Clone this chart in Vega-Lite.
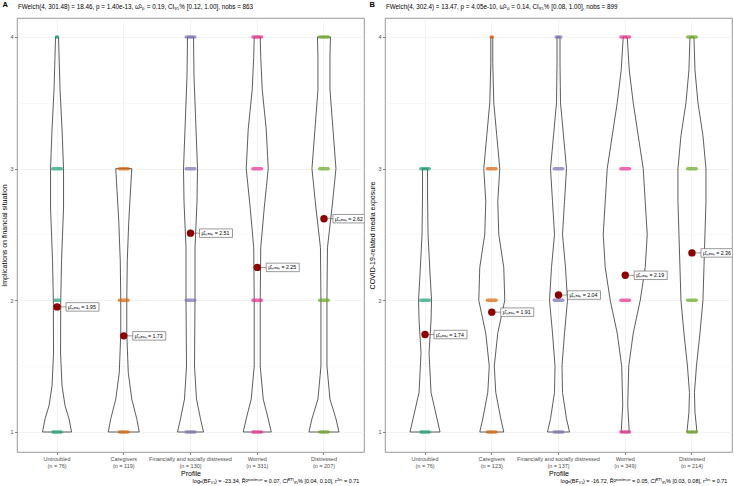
{
  "$schema": "https://vega.github.io/schema/vega-lite/v6.json",
  "padding": 0,
  "background": "white",
  "spacing": 3,
  "config": {
    "font": "Liberation Sans",
    "view": {"stroke": "#7f7f7f", "strokeWidth": 0.8},
    "axis": {"domain": false, "gridColor": "#ebebeb", "gridWidth": 0.6, "tickColor": "#333333", "tickWidth": 0.6, "tickSize": 2.5, "labelColor": "#4d4d4d", "labelFontSize": 5.5, "titleFontSize": 7, "titleFontWeight": "normal", "titleColor": "#000000"}
  },
  "datasets": {
    "violinA": [
      {"g":"Untroubled","y":1,"w":0},{"g":"Untroubled","y":1,"w":14.5},{"g":"Untroubled","y":1.1,"w":12},{"g":"Untroubled","y":1.2,"w":8},{"g":"Untroubled","y":1.35,"w":5},{"g":"Untroubled","y":1.6,"w":3.5},{"g":"Untroubled","y":2,"w":3.7},{"g":"Untroubled","y":2.3,"w":4.5},{"g":"Untroubled","y":2.7,"w":6.5},{"g":"Untroubled","y":3,"w":6.5},{"g":"Untroubled","y":3.3,"w":5},{"g":"Untroubled","y":3.6,"w":3},{"g":"Untroubled","y":4,"w":1.5},{"g":"Untroubled","y":4,"w":0},
      {"g":"Caregivers","y":1,"w":0},{"g":"Caregivers","y":1,"w":15.5},{"g":"Caregivers","y":1.1,"w":13},{"g":"Caregivers","y":1.25,"w":8},{"g":"Caregivers","y":1.45,"w":4.5},{"g":"Caregivers","y":1.75,"w":3},{"g":"Caregivers","y":2,"w":3},{"g":"Caregivers","y":2.3,"w":3.5},{"g":"Caregivers","y":2.6,"w":5},{"g":"Caregivers","y":2.8,"w":6.5},{"g":"Caregivers","y":3,"w":8},{"g":"Caregivers","y":3,"w":0},
      {"g":"Financially and socially distressed","y":1,"w":0},{"g":"Financially and socially distressed","y":1,"w":13},{"g":"Financially and socially distressed","y":1.1,"w":10},{"g":"Financially and socially distressed","y":1.25,"w":6},{"g":"Financially and socially distressed","y":1.5,"w":4},{"g":"Financially and socially distressed","y":2,"w":4.5},{"g":"Financially and socially distressed","y":2.4,"w":4.5},{"g":"Financially and socially distressed","y":2.75,"w":6.5},{"g":"Financially and socially distressed","y":3,"w":7},{"g":"Financially and socially distressed","y":3.3,"w":5.5},{"g":"Financially and socially distressed","y":3.7,"w":3.5},{"g":"Financially and socially distressed","y":4,"w":3},{"g":"Financially and socially distressed","y":4,"w":0},
      {"g":"Worried","y":1,"w":0},{"g":"Worried","y":1,"w":14},{"g":"Worried","y":1.1,"w":11},{"g":"Worried","y":1.25,"w":6},{"g":"Worried","y":1.5,"w":3},{"g":"Worried","y":2,"w":3},{"g":"Worried","y":2.4,"w":3.5},{"g":"Worried","y":2.7,"w":7},{"g":"Worried","y":3,"w":11},{"g":"Worried","y":3.3,"w":9},{"g":"Worried","y":3.6,"w":5},{"g":"Worried","y":3.85,"w":3.5},{"g":"Worried","y":4,"w":3},{"g":"Worried","y":4,"w":0},
      {"g":"Distressed","y":1,"w":0},{"g":"Distressed","y":1,"w":15},{"g":"Distressed","y":1.1,"w":12},{"g":"Distressed","y":1.25,"w":6},{"g":"Distressed","y":1.5,"w":3},{"g":"Distressed","y":2,"w":3},{"g":"Distressed","y":2.4,"w":3.5},{"g":"Distressed","y":2.7,"w":8},{"g":"Distressed","y":3,"w":12},{"g":"Distressed","y":3.3,"w":9},{"g":"Distressed","y":3.6,"w":6},{"g":"Distressed","y":3.85,"w":6},{"g":"Distressed","y":4,"w":6.5},{"g":"Distressed","y":4,"w":0}
    ],
    "violinB": [
      {"g":"Untroubled","y":1,"w":0},{"g":"Untroubled","y":1,"w":15},{"g":"Untroubled","y":1.1,"w":12},{"g":"Untroubled","y":1.3,"w":6},{"g":"Untroubled","y":1.6,"w":4},{"g":"Untroubled","y":1.85,"w":6},{"g":"Untroubled","y":2,"w":6.5},{"g":"Untroubled","y":2.2,"w":5},{"g":"Untroubled","y":2.5,"w":3},{"g":"Untroubled","y":2.8,"w":2.5},{"g":"Untroubled","y":3,"w":2.5},{"g":"Untroubled","y":3,"w":0},
      {"g":"Caregivers","y":1,"w":0},{"g":"Caregivers","y":1,"w":12},{"g":"Caregivers","y":1.1,"w":9},{"g":"Caregivers","y":1.3,"w":4},{"g":"Caregivers","y":1.5,"w":2.5},{"g":"Caregivers","y":1.75,"w":6},{"g":"Caregivers","y":2,"w":13},{"g":"Caregivers","y":2.25,"w":12},{"g":"Caregivers","y":2.5,"w":7},{"g":"Caregivers","y":2.75,"w":6},{"g":"Caregivers","y":3,"w":8},{"g":"Caregivers","y":3.25,"w":5},{"g":"Caregivers","y":3.5,"w":2},{"g":"Caregivers","y":3.8,"w":1},{"g":"Caregivers","y":4,"w":1},{"g":"Caregivers","y":4,"w":0},
      {"g":"Financially and socially distressed","y":1,"w":0},{"g":"Financially and socially distressed","y":1,"w":11},{"g":"Financially and socially distressed","y":1.1,"w":8},{"g":"Financially and socially distressed","y":1.3,"w":4},{"g":"Financially and socially distressed","y":1.5,"w":3.5},{"g":"Financially and socially distressed","y":1.75,"w":6},{"g":"Financially and socially distressed","y":2,"w":9},{"g":"Financially and socially distressed","y":2.25,"w":7},{"g":"Financially and socially distressed","y":2.5,"w":4},{"g":"Financially and socially distressed","y":2.75,"w":6},{"g":"Financially and socially distressed","y":3,"w":8},{"g":"Financially and socially distressed","y":3.25,"w":5},{"g":"Financially and socially distressed","y":3.5,"w":2},{"g":"Financially and socially distressed","y":3.8,"w":1.5},{"g":"Financially and socially distressed","y":4,"w":1.5},{"g":"Financially and socially distressed","y":4,"w":0},
      {"g":"Worried","y":1,"w":0},{"g":"Worried","y":1,"w":4},{"g":"Worried","y":1.2,"w":2.5},{"g":"Worried","y":1.5,"w":3.5},{"g":"Worried","y":1.75,"w":8},{"g":"Worried","y":2,"w":15},{"g":"Worried","y":2.25,"w":20},{"g":"Worried","y":2.5,"w":22},{"g":"Worried","y":2.75,"w":20},{"g":"Worried","y":3,"w":18},{"g":"Worried","y":3.25,"w":13},{"g":"Worried","y":3.5,"w":8},{"g":"Worried","y":3.75,"w":4},{"g":"Worried","y":4,"w":2},{"g":"Worried","y":4,"w":0},
      {"g":"Distressed","y":1,"w":0},{"g":"Distressed","y":1,"w":5},{"g":"Distressed","y":1.15,"w":3},{"g":"Distressed","y":1.3,"w":2.5},{"g":"Distressed","y":1.5,"w":4.5},{"g":"Distressed","y":1.75,"w":8},{"g":"Distressed","y":2,"w":11},{"g":"Distressed","y":2.25,"w":12},{"g":"Distressed","y":2.5,"w":13},{"g":"Distressed","y":2.75,"w":14},{"g":"Distressed","y":3,"w":14},{"g":"Distressed","y":3.25,"w":11},{"g":"Distressed","y":3.5,"w":6},{"g":"Distressed","y":3.75,"w":3},{"g":"Distressed","y":4,"w":2},{"g":"Distressed","y":4,"w":0}
    ],
    "dotsA": [
      {"g":"Untroubled","y":1,"n":38},{"g":"Untroubled","y":2,"n":8},{"g":"Untroubled","y":3,"n":26},{"g":"Untroubled","y":4,"n":2},
      {"g":"Caregivers","y":1,"n":67},{"g":"Caregivers","y":2,"n":17},{"g":"Caregivers","y":3,"n":35},
      {"g":"Financially and socially distressed","y":1,"n":36},{"g":"Financially and socially distressed","y":2,"n":25},{"g":"Financially and socially distressed","y":3,"n":35},{"g":"Financially and socially distressed","y":4,"n":34},
      {"g":"Worried","y":1,"n":130},{"g":"Worried","y":2,"n":40},{"g":"Worried","y":3,"n":110},{"g":"Worried","y":4,"n":51},
      {"g":"Distressed","y":1,"n":60},{"g":"Distressed","y":2,"n":15},{"g":"Distressed","y":3,"n":75},{"g":"Distressed","y":4,"n":57}
    ],
    "dotsB": [
      {"g":"Untroubled","y":1,"n":35},{"g":"Untroubled","y":2,"n":26},{"g":"Untroubled","y":3,"n":15},
      {"g":"Caregivers","y":1,"n":43},{"g":"Caregivers","y":2,"n":50},{"g":"Caregivers","y":3,"n":28},{"g":"Caregivers","y":4,"n":2},
      {"g":"Financially and socially distressed","y":1,"n":45},{"g":"Financially and socially distressed","y":2,"n":50},{"g":"Financially and socially distressed","y":3,"n":34},{"g":"Financially and socially distressed","y":4,"n":8},
      {"g":"Worried","y":1,"n":72},{"g":"Worried","y":2,"n":160},{"g":"Worried","y":3,"n":97},{"g":"Worried","y":4,"n":20},
      {"g":"Distressed","y":1,"n":33},{"g":"Distressed","y":2,"n":91},{"g":"Distressed","y":3,"n":68},{"g":"Distressed","y":4,"n":22}
    ],
    "meanA": [
      {"g":"Untroubled","y":1.95,"t":"μ̂ₘₑₐₙ = 1.95"},
      {"g":"Caregivers","y":1.73,"t":"μ̂ₘₑₐₙ = 1.73"},
      {"g":"Financially and socially distressed","y":2.51,"t":"μ̂ₘₑₐₙ = 2.51"},
      {"g":"Worried","y":2.25,"t":"μ̂ₘₑₐₙ = 2.25"},
      {"g":"Distressed","y":2.62,"t":"μ̂ₘₑₐₙ = 2.62"}
    ],
    "meanB": [
      {"g":"Untroubled","y":1.74,"t":"μ̂ₘₑₐₙ = 1.74"},
      {"g":"Caregivers","y":1.91,"t":"μ̂ₘₑₐₙ = 1.91"},
      {"g":"Financially and socially distressed","y":2.04,"t":"μ̂ₘₑₐₙ = 2.04"},
      {"g":"Worried","y":2.19,"t":"μ̂ₘₑₐₙ = 2.19"},
      {"g":"Distressed","y":2.36,"t":"μ̂ₘₑₐₙ = 2.36"}
    ]
  },
  "hconcat": [
    {
      "title": {"text": "logₑ(BF₀₁) = -23.34, R̂²ᵖᵒˢᵗᵉʳⁱᵒʳ = 0.07, CIᴱᵀᴵ₉₅% [0.04, 0.10], rᴶᶻˢ = 0.71", "orient": "bottom", "anchor": "end", "fontSize": 5.5, "fontWeight": "normal", "offset": 2, "dx": -5, "color": "#000000"},
      "vconcat": [
        {
          "title": {"text": "A", "anchor": "start", "frame": "bounds", "fontSize": 7.5, "fontWeight": "bold", "color": "#000000", "offset": -5, "dx": 2},
          "vconcat": [
            {
              "width": 347,
              "height": 434,
              "title": {"text": "FWelch(4, 301.48) = 18.46, p = 1.40e-13, ω̂²ₚ = 0.19, CI₉₅% [0.12, 1.00], nobs = 863", "anchor": "start", "frame": "bounds", "fontSize": 6.3, "fontWeight": "normal", "color": "#000000", "offset": 8, "dx": 17},
              "encoding": {
                "x": {"field": "g", "type": "nominal", "sort": ["Untroubled","Caregivers","Financially and socially distressed","Worried","Distressed"], "scale": {"paddingInner": 0, "paddingOuter": 0.1},
                  "axis": {"title": "Profile", "labelAngle": 0, "labelOverlap": false, "labelLimit": 0, "labelBound": false, "labelPadding": 2, "titlePadding": 1, "labelLineHeight": 6.5, "grid": true,
                    "labelExpr": "datum.value == 'Untroubled' ? ['Untroubled','(n = 76)'] : datum.value == 'Caregivers' ? ['Caregivers','(n = 119)'] : datum.value == 'Worried' ? ['Worried','(n = 331)'] : datum.value == 'Distressed' ? ['Distressed','(n = 207)'] : ['Financially and socially distressed','(n = 130)']"}},
                "y": {"field": "y", "type": "quantitative", "scale": {"domain": [0.848, 4.144], "nice": false, "zero": false},
                  "axis": {"title": "Implications on financial situation", "values": [1,1.5,2,2.5,3,3.5,4], "labelExpr": "datum.value % 1 == 0 ? format(datum.value, 'd') : ''", "labelPadding": 1.5, "titlePadding": 2, "gridColor": {"condition": {"test": "datum.value % 1 != 0", "value": "#f4f4f4"}, "value": "#ebebeb"}, "tickOpacity": {"condition": {"test": "datum.value % 1 != 0", "value": 0}, "value": 1}}}
              },
              "resolve": {"scale": {"xOffset": "independent"}},
              "layer": [
                {"data": {"name": "violinA"}, "mark": {"type": "line", "color": "#333333", "strokeWidth": 0.8}, "encoding": {"xOffset": {"field": "w", "type": "quantitative", "scale": {"domain": [-33.365, 33.365]}}, "detail": {"field": "g"}, "order": {"value": null}}},
                {"data": {"name": "violinA"}, "mark": {"type": "line", "color": "#333333", "strokeWidth": 0.8}, "encoding": {"xOffset": {"field": "w", "type": "quantitative", "scale": {"domain": [-33.365, 33.365], "reverse": true}}, "detail": {"field": "g"}, "order": {"value": null}}},
                {"data": {"name": "dotsA"}, "mark": {"type": "tick", "thickness": 3.5, "opacity": 0.7, "cornerRadius": 2}, "encoding": {"color": {"field": "g", "type": "nominal", "scale": {"domain": ["Untroubled","Caregivers","Financially and socially distressed","Worried","Distressed"], "range": ["#1b9e77","#d95f02","#7570b3","#e7298a","#66a61e"]}, "legend": null}, "size": {"field": "n", "type": "quantitative", "scale": {"domain": [1, 15], "range": [4, 12], "clamp": true}, "legend": null}}},
                {"data": {"name": "meanA"}, "mark": {"type": "point", "shape": "M0,0H0.18M0.18,-0.085H0.84V0.085H0.18Z", "size": 10000, "filled": true, "fill": "white", "stroke": "#555555", "strokeWidth": 0.6, "opacity": 1, "clip": true}},
                {"data": {"name": "meanA"}, "mark": {"type": "circle", "size": 55, "color": "#8b0000", "opacity": 1}},
                {"data": {"name": "meanA"}, "mark": {"type": "text", "align": "left", "baseline": "middle", "dx": 11, "fontSize": 5.2, "color": "#000000", "clip": true}, "encoding": {"text": {"field": "t"}}}
              ]
            }
          ]
        }
      ]
    },
    {
      "title": {"text": "logₑ(BF₀₁) = -16.72, R̂²ᵖᵒˢᵗᵉʳⁱᵒʳ = 0.05, CIᴱᵀᴵ₉₅% [0.03, 0.08], rᴶᶻˢ = 0.71", "orient": "bottom", "anchor": "end", "fontSize": 5.5, "fontWeight": "normal", "offset": 2, "dx": -5, "color": "#000000"},
      "vconcat": [
        {
          "title": {"text": "B", "anchor": "start", "frame": "bounds", "fontSize": 7.5, "fontWeight": "bold", "color": "#000000", "offset": -5, "dx": 1},
          "vconcat": [
            {
              "width": 347,
              "height": 434,
              "title": {"text": "FWelch(4, 302.4) = 13.47, p = 4.05e-10, ω̂²ₚ = 0.14, CI₉₅% [0.08, 1.00], nobs = 899", "anchor": "start", "frame": "bounds", "fontSize": 6.3, "fontWeight": "normal", "color": "#000000", "offset": 8, "dx": 17},
              "encoding": {
                "x": {"field": "g", "type": "nominal", "sort": ["Untroubled","Caregivers","Financially and socially distressed","Worried","Distressed"], "scale": {"paddingInner": 0, "paddingOuter": 0.1},
                  "axis": {"title": "Profile", "labelAngle": 0, "labelOverlap": false, "labelLimit": 0, "labelBound": false, "labelPadding": 2, "titlePadding": 1, "labelLineHeight": 6.5, "grid": true,
                    "labelExpr": "datum.value == 'Untroubled' ? ['Untroubled','(n = 76)'] : datum.value == 'Caregivers' ? ['Caregivers','(n = 123)'] : datum.value == 'Worried' ? ['Worried','(n = 349)'] : datum.value == 'Distressed' ? ['Distressed','(n = 214)'] : ['Financially and socially distressed','(n = 137)']"}},
                "y": {"field": "y", "type": "quantitative", "scale": {"domain": [0.848, 4.144], "nice": false, "zero": false},
                  "axis": {"title": "COVID-19-related media exposure", "values": [1,1.5,2,2.5,3,3.5,4], "labelExpr": "datum.value % 1 == 0 ? format(datum.value, 'd') : ''", "labelPadding": 1.5, "titlePadding": 2, "gridColor": {"condition": {"test": "datum.value % 1 != 0", "value": "#f4f4f4"}, "value": "#ebebeb"}, "tickOpacity": {"condition": {"test": "datum.value % 1 != 0", "value": 0}, "value": 1}}}
              },
              "resolve": {"scale": {"xOffset": "independent"}},
              "layer": [
                {"data": {"name": "violinB"}, "mark": {"type": "line", "color": "#333333", "strokeWidth": 0.8}, "encoding": {"xOffset": {"field": "w", "type": "quantitative", "scale": {"domain": [-33.365, 33.365]}}, "detail": {"field": "g"}, "order": {"value": null}}},
                {"data": {"name": "violinB"}, "mark": {"type": "line", "color": "#333333", "strokeWidth": 0.8}, "encoding": {"xOffset": {"field": "w", "type": "quantitative", "scale": {"domain": [-33.365, 33.365], "reverse": true}}, "detail": {"field": "g"}, "order": {"value": null}}},
                {"data": {"name": "dotsB"}, "mark": {"type": "tick", "thickness": 3.5, "opacity": 0.7, "cornerRadius": 2}, "encoding": {"color": {"field": "g", "type": "nominal", "scale": {"domain": ["Untroubled","Caregivers","Financially and socially distressed","Worried","Distressed"], "range": ["#1b9e77","#d95f02","#7570b3","#e7298a","#66a61e"]}, "legend": null}, "size": {"field": "n", "type": "quantitative", "scale": {"domain": [1, 15], "range": [4, 12], "clamp": true}, "legend": null}}},
                {"data": {"name": "meanB"}, "mark": {"type": "point", "shape": "M0,0H0.18M0.18,-0.085H0.84V0.085H0.18Z", "size": 10000, "filled": true, "fill": "white", "stroke": "#555555", "strokeWidth": 0.6, "opacity": 1, "clip": true}},
                {"data": {"name": "meanB"}, "mark": {"type": "circle", "size": 55, "color": "#8b0000", "opacity": 1}},
                {"data": {"name": "meanB"}, "mark": {"type": "text", "align": "left", "baseline": "middle", "dx": 11, "fontSize": 5.2, "color": "#000000", "clip": true}, "encoding": {"text": {"field": "t"}}}
              ]
            }
          ]
        }
      ]
    }
  ]
}
